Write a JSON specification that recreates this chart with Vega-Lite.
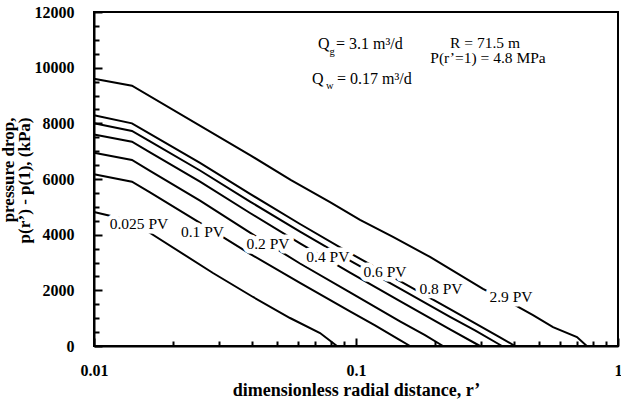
{
  "$schema": "https://vega.github.io/schema/vega-lite/v6.json",
  "width": 524,
  "height": 334,
  "autosize": "none",
  "padding": {"left": 94, "top": 12, "right": 3, "bottom": 59},
  "background": "white",
  "config": {
    "font": "Liberation Serif",
    "view": {"stroke": "black", "strokeWidth": 2},
    "axis": {
      "grid": false,
      "domainColor": "black",
      "domainWidth": 2,
      "tickColor": "black",
      "tickWidth": 2,
      "labelColor": "black",
      "labelFont": "Liberation Serif",
      "labelFontWeight": "bold",
      "labelFontSize": 16,
      "titleColor": "black",
      "titleFont": "Liberation Serif",
      "titleFontWeight": "bold",
      "titleFontSize": 17
    }
  },
  "datasets": {
    "curves": [
      {"pv": "2.9 PV", "r": 0.01, "dp": 9600},
      {"pv": "2.9 PV", "r": 0.01396, "dp": 9350},
      {"pv": "2.9 PV", "r": 0.0394, "dp": 6860},
      {"pv": "2.9 PV", "r": 0.0565, "dp": 5960},
      {"pv": "2.9 PV", "r": 0.0796, "dp": 5170},
      {"pv": "2.9 PV", "r": 0.1036, "dp": 4530},
      {"pv": "2.9 PV", "r": 0.1384, "dp": 3920},
      {"pv": "2.9 PV", "r": 0.1916, "dp": 3200},
      {"pv": "2.9 PV", "r": 0.3053, "dp": 2050},
      {"pv": "2.9 PV", "r": 0.4046, "dp": 1470},
      {"pv": "2.9 PV", "r": 0.4738, "dp": 1110},
      {"pv": "2.9 PV", "r": 0.5649, "dp": 680},
      {"pv": "2.9 PV", "r": 0.6974, "dp": 320},
      {"pv": "2.9 PV", "r": 0.76, "dp": 0},
      {"pv": "0.8 PV", "r": 0.01, "dp": 8290},
      {"pv": "0.8 PV", "r": 0.01396, "dp": 8000},
      {"pv": "0.8 PV", "r": 0.01636, "dp": 7624},
      {"pv": "0.8 PV", "r": 0.02539, "dp": 6582},
      {"pv": "0.8 PV", "r": 0.0394, "dp": 5465},
      {"pv": "0.8 PV", "r": 0.06113, "dp": 4383},
      {"pv": "0.8 PV", "r": 0.09487, "dp": 3338},
      {"pv": "0.8 PV", "r": 0.1472, "dp": 2332},
      {"pv": "0.8 PV", "r": 0.2285, "dp": 1322},
      {"pv": "0.8 PV", "r": 0.3545, "dp": 313},
      {"pv": "0.8 PV", "r": 0.4046, "dp": 0},
      {"pv": "0.6 PV", "r": 0.01, "dp": 8000},
      {"pv": "0.6 PV", "r": 0.01396, "dp": 7725},
      {"pv": "0.6 PV", "r": 0.01636, "dp": 7348},
      {"pv": "0.6 PV", "r": 0.02539, "dp": 6306},
      {"pv": "0.6 PV", "r": 0.0394, "dp": 5188},
      {"pv": "0.6 PV", "r": 0.06113, "dp": 4110},
      {"pv": "0.6 PV", "r": 0.09487, "dp": 3065},
      {"pv": "0.6 PV", "r": 0.1472, "dp": 2059},
      {"pv": "0.6 PV", "r": 0.2285, "dp": 1049},
      {"pv": "0.6 PV", "r": 0.2846, "dp": 564},
      {"pv": "0.6 PV", "r": 0.3608, "dp": 0},
      {"pv": "0.4 PV", "r": 0.01, "dp": 7600},
      {"pv": "0.4 PV", "r": 0.01396, "dp": 7340},
      {"pv": "0.4 PV", "r": 0.01636, "dp": 6960},
      {"pv": "0.4 PV", "r": 0.02539, "dp": 5907},
      {"pv": "0.4 PV", "r": 0.0394, "dp": 4779},
      {"pv": "0.4 PV", "r": 0.06113, "dp": 3690},
      {"pv": "0.4 PV", "r": 0.09487, "dp": 2634},
      {"pv": "0.4 PV", "r": 0.1472, "dp": 1613},
      {"pv": "0.4 PV", "r": 0.2285, "dp": 596},
      {"pv": "0.4 PV", "r": 0.2974, "dp": 0},
      {"pv": "0.2 PV", "r": 0.01, "dp": 6940},
      {"pv": "0.2 PV", "r": 0.01396, "dp": 6683},
      {"pv": "0.2 PV", "r": 0.01636, "dp": 6295},
      {"pv": "0.2 PV", "r": 0.02539, "dp": 5221},
      {"pv": "0.2 PV", "r": 0.0394, "dp": 4074},
      {"pv": "0.2 PV", "r": 0.06113, "dp": 2964},
      {"pv": "0.2 PV", "r": 0.09487, "dp": 1926},
      {"pv": "0.2 PV", "r": 0.1472, "dp": 887},
      {"pv": "0.2 PV", "r": 0.1834, "dp": 388},
      {"pv": "0.2 PV", "r": 0.2148, "dp": 0},
      {"pv": "0.1 PV", "r": 0.01, "dp": 6170},
      {"pv": "0.1 PV", "r": 0.01396, "dp": 5903},
      {"pv": "0.1 PV", "r": 0.01636, "dp": 5522},
      {"pv": "0.1 PV", "r": 0.02539, "dp": 4423},
      {"pv": "0.1 PV", "r": 0.0394, "dp": 3309},
      {"pv": "0.1 PV", "r": 0.06113, "dp": 2264},
      {"pv": "0.1 PV", "r": 0.09487, "dp": 1240},
      {"pv": "0.1 PV", "r": 0.1182, "dp": 744},
      {"pv": "0.1 PV", "r": 0.1472, "dp": 212},
      {"pv": "0.1 PV", "r": 0.1608, "dp": 0},
      {"pv": "0.025 PV", "r": 0.01, "dp": 4815},
      {"pv": "0.025 PV", "r": 0.01396, "dp": 4491},
      {"pv": "0.025 PV", "r": 0.01593, "dp": 4132},
      {"pv": "0.025 PV", "r": 0.02845, "dp": 2623},
      {"pv": "0.025 PV", "r": 0.04046, "dp": 1761},
      {"pv": "0.025 PV", "r": 0.056, "dp": 1006},
      {"pv": "0.025 PV", "r": 0.0729, "dp": 467},
      {"pv": "0.025 PV", "r": 0.0846, "dp": 0}
    ],
    "labels": [
      {"label": "0.025 PV", "r": 0.01485, "dp": 4383},
      {"label": "0.1 PV", "r": 0.02595, "dp": 4096},
      {"label": "0.2 PV", "r": 0.04614, "dp": 3665},
      {"label": "0.4 PV", "r": 0.0781, "dp": 3198},
      {"label": "0.6 PV", "r": 0.129, "dp": 2641},
      {"label": "0.8 PV", "r": 0.2111, "dp": 2048},
      {"label": "2.9 PV", "r": 0.3905, "dp": 1743}
    ],
    "notes": [
      {"text": "Q", "r": 0.0716, "dp": 10851},
      {"text": "= 3.1 m³/d", "r": 0.0839, "dp": 10851},
      {"text": "Q", "r": 0.0679, "dp": 9593},
      {"text": "= 0.17 m³/d", "r": 0.0846, "dp": 9593}
    ],
    "subs": [
      {"text": "g", "r": 0.0792, "dp": 10563},
      {"text": "w", "r": 0.0768, "dp": 9342}
    ],
    "centered": [
      {"text": "R = 71.5 m", "r": 0.3108, "dp": 10890},
      {"text": "P(r’=1) = 4.8 MPa", "r": 0.319, "dp": 10330}
    ]
  },
  "layer": [
    {
      "data": {"name": "curves"},
      "mark": {"type": "line", "color": "black", "strokeWidth": 2},
      "encoding": {
        "x": {
          "field": "r", "type": "quantitative",
          "scale": {"type": "log", "domain": [0.01, 1]},
          "axis": {
            "orient": "bottom",
            "values": [0.01, 0.1, 1],
            "format": "~g",
            "tickSize": -8,
            "labelPadding": 24,
            "labelFlush": false,
            "title": "dimensionless radial distance, r’",
            "titleFontSize": 18,
            "titlePadding": 3
          }
        },
        "y": {
          "field": "dp", "type": "quantitative",
          "scale": {"domain": [0, 12000]},
          "axis": {
            "orient": "left",
            "values": [0, 2000, 4000, 6000, 8000, 10000, 12000],
            "format": "d",
            "tickSize": -8,
            "labelPadding": 28,
            "title": ["pressure drop,", "p(r’) - p(1), (kPa)"],
            "titlePadding": 1,
            "titleLineHeight": 16,
            "titleAlign": "right",
            "titleY": 105
          }
        },
        "detail": {"field": "pv"}
      }
    },
    {
      "data": {"name": "labels"},
      "mark": {"type": "text", "color": "white", "stroke": "white", "strokeWidth": 9, "strokeJoin": "round", "font": "Liberation Serif", "fontSize": 15.5, "align": "center", "baseline": "middle"},
      "encoding": {
        "x": {
          "field": "r", "type": "quantitative",
          "scale": {"type": "log", "domain": [0.01, 1]},
          "axis": {
            "orient": "bottom",
            "values": [0.02, 0.03, 0.04, 0.05, 0.06, 0.07, 0.08, 0.09, 0.2, 0.3, 0.4, 0.5, 0.6, 0.7, 0.8, 0.9],
            "labels": false, "domain": false, "tickSize": -5, "title": null
          }
        },
        "y": {
          "field": "dp", "type": "quantitative",
          "scale": {"domain": [0, 12000]},
          "axis": {
            "orient": "left",
            "values": [500, 1000, 1500, 2500, 3000, 3500, 4500, 5000, 5500, 6500, 7000, 7500, 8500, 9000, 9500, 10500, 11000, 11500],
            "labels": false, "domain": false, "tickSize": -5, "title": null
          }
        },
        "text": {"field": "label"}
      }
    },
    {
      "data": {"name": "labels"},
      "mark": {"type": "text", "color": "black", "font": "Liberation Serif", "fontSize": 15.5, "align": "center", "baseline": "middle"},
      "encoding": {
        "x": {"field": "r", "type": "quantitative", "scale": {"type": "log", "domain": [0.01, 1]}, "axis": null},
        "y": {"field": "dp", "type": "quantitative", "scale": {"domain": [0, 12000]}, "axis": null},
        "text": {"field": "label"}
      }
    },
    {
      "data": {"name": "notes"},
      "mark": {"type": "text", "color": "black", "font": "Liberation Serif", "fontSize": 16, "align": "left", "baseline": "middle"},
      "encoding": {
        "x": {"field": "r", "type": "quantitative", "scale": {"type": "log", "domain": [0.01, 1]}, "axis": null},
        "y": {"field": "dp", "type": "quantitative", "scale": {"domain": [0, 12000]}, "axis": null},
        "text": {"field": "text"}
      }
    },
    {
      "data": {"name": "subs"},
      "mark": {"type": "text", "color": "black", "font": "Liberation Serif", "fontSize": 10.5, "align": "left", "baseline": "middle"},
      "encoding": {
        "x": {"field": "r", "type": "quantitative", "scale": {"type": "log", "domain": [0.01, 1]}, "axis": null},
        "y": {"field": "dp", "type": "quantitative", "scale": {"domain": [0, 12000]}, "axis": null},
        "text": {"field": "text"}
      }
    },
    {
      "data": {"name": "centered"},
      "mark": {"type": "text", "color": "black", "font": "Liberation Serif", "fontSize": 15.5, "align": "center", "baseline": "middle"},
      "encoding": {
        "x": {"field": "r", "type": "quantitative", "scale": {"type": "log", "domain": [0.01, 1]}, "axis": null},
        "y": {"field": "dp", "type": "quantitative", "scale": {"domain": [0, 12000]}, "axis": null},
        "text": {"field": "text"}
      }
    }
  ],
  "resolve": {"axis": {"x": "independent", "y": "independent"}}
}
